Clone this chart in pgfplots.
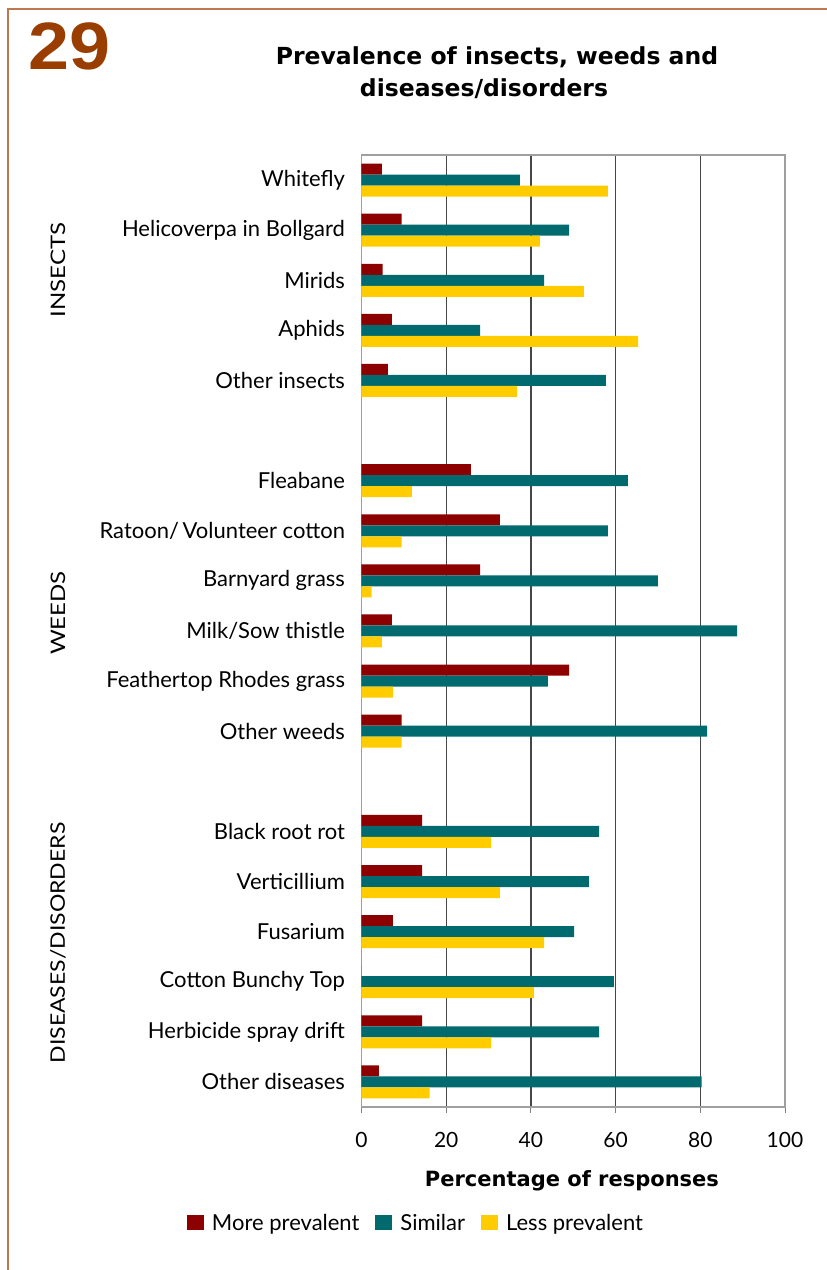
\documentclass[border=0pt]{standalone}
\usepackage{fontspec}
\setmainfont{Lato}
\newfontfamily\numfont{Liberation Sans}
\newfontfamily\titlefont{DejaVu Sans}
\usepackage{pgfplots}
\usepackage{pgfplotstable}
\pgfplotsset{compat=1.18}
\definecolor{cMore}{RGB}{140,0,0}
\definecolor{cSim}{RGB}{0,106,110}
\definecolor{cLess}{RGB}{255,204,0}
\definecolor{brd}{RGB}{190,120,80}
\definecolor{numc}{RGB}{153,62,0}
\definecolor{gridc}{RGB}{70,70,70}

% pos more similar less
\pgfplotstableread{
pos more similar less
18 4.8 37.4 58.2
17 9.5 49.0 42.1
16 5.0 43.1 52.5
15 7.2 28.0 65.3
14 6.2 57.7 36.7
12 25.8 62.9 11.9
11 32.7 58.2 9.5
10 28.0 70.0 2.4
9 7.2 88.7 4.8
8 49.0 44.0 7.4
7 9.5 81.6 9.5
5 14.3 56.1 30.6
4 14.3 53.7 32.7
3 7.4 50.2 43.1
2 0 59.6 40.7
1 14.3 56.1 30.6
0 4.1 80.3 16.1
}\data

\begin{document}
\begin{tikzpicture}[x=1pt,y=1pt]
\path[use as bounding box] (0,0) rectangle (827,1270);
\draw[brd, line width=2pt] (8,0) -- (8,1261) -- (827,1261);
\node[anchor=base west, font=\numfont\bfseries\fontsize{67}{67}\selectfont, text=numc, inner sep=0, xscale=1.1] at (28,1200) {29};
\node[anchor=base, font=\titlefont\bfseries\fontsize{23.5}{23.5}\selectfont, inner sep=0] at (497,1205) {Prevalence of insects, weeds and};
\node[anchor=base, font=\titlefont\bfseries\fontsize{23.5}{23.5}\selectfont, inner sep=0] at (484,1173) {diseases/disorders};

\node[rotate=90, font=\fontsize{20}{20}\selectfont, inner sep=0, xscale=1.2] at (58,1000) {INSECTS};
\node[rotate=90, font=\fontsize{20}{20}\selectfont, inner sep=0, xscale=1.2] at (58,657) {WEEDS};
\node[rotate=90, font=\fontsize{20}{20}\selectfont, inner sep=0, xscale=1.15] at (58,327) {DISEASES/DISORDERS};

\begin{axis}[
  at={(361.5pt,163pt)}, anchor=south west, scale only axis,
  width=423.5pt, height=952pt,
  xmin=0, xmax=100, ymin=-0.5, ymax=18.5,
  xbar, bar width=11pt,
  xtick={0,20,40,60,80,100},
  xtick pos=lower, tick align=outside,
  major tick length=6pt,
  x tick style={draw=gray, line width=1pt},
  xmajorgrids, grid style={draw=gridc, line width=1.2pt},
  ytick={18,17,16,15,14,12,11,10,9,8,7,5,4,3,2,1,0},
  yticklabels={Whitefly,Helicoverpa in Bollgard,Mirids,Aphids,Other insects,
    Fleabane,Ratoon/\,Volunteer cotton,Barnyard grass,Milk/Sow thistle,Feathertop Rhodes grass,Other weeds,
    Black root rot,Verticillium,Fusarium,Cotton Bunchy Top,Herbicide spray drift,Other diseases},
  y tick style={draw=none},
  yticklabel style={font=\fontsize{22}{22}\selectfont, xshift=-7pt},
  xticklabel style={font=\fontsize{21}{21}\selectfont, yshift=-16pt},
  /pgf/number format/assume math mode=true,
  axis line style={draw=gray!75, line width=1.5pt},
  xlabel={Percentage of responses},
  xlabel style={font=\titlefont\bfseries\fontsize{21}{21}\selectfont, at={(axis description cs:0.497,-0.084)}, anchor=base},
  legend columns=3,
  legend style={draw=none, at={(axis description cs:0.1287,-0.1218)}, anchor=center,
    font=\fontsize{22}{22}\selectfont,
    /tikz/every odd column/.append style={column sep=6pt},
    /tikz/every even column/.append style={column sep=14pt}},
  legend image code/.code={\fill[#1] (0pt,-7.5pt) rectangle (17pt,7.5pt);},
]
\addplot[fill=cMore, draw=none, bar shift=11pt] table[x=more, y=pos] {\data};
\addplot[fill=cSim, draw=none, bar shift=0pt] table[x=similar, y=pos] {\data};
\addplot[fill=cLess, draw=none, bar shift=-11pt] table[x=less, y=pos] {\data};
\legend{More prevalent, Similar, Less prevalent}
\end{axis}
\end{tikzpicture}
\end{document}
